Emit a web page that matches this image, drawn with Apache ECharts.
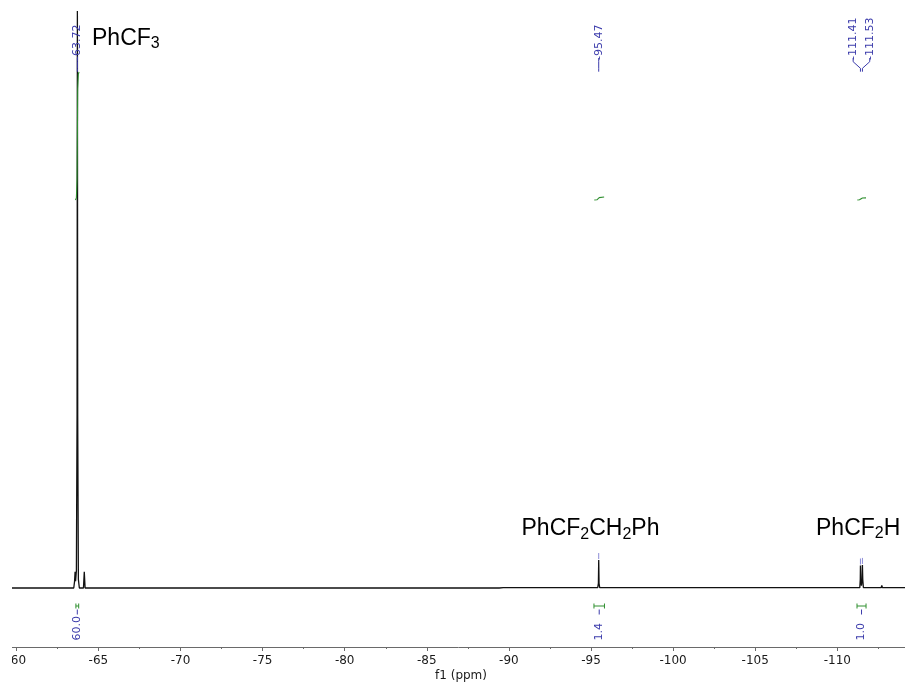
<!DOCTYPE html>
<html>
<head>
<meta charset="utf-8">
<title>19F NMR spectrum</title>
<script src="https://cdn.jsdelivr.net/npm/echarts@6/dist/echarts.min.js"></script>
<style>
  html, body { margin: 0; padding: 0; background: #ffffff; }
  #chart { position: absolute; left: 12px; top: 0; width: 893px; height: 685px; }
</style>
</head>
<body>
<div id="chart"></div>
<script>
// Chemical-shift axis (ppm)
const axisMin = -115;
const axisMax = -55;
const axisStep = 5;

// Spectrum trace: chemical shift (ppm) and intensity (% of tallest line)
const spectrumPpm = [
  -59.00, -63.50, -63.55, -63.58, -63.61, -63.66, -63.70, -63.72, -63.74, -63.78, -63.84,
  -64.09, -64.14, -64.19,
  -89.41, -89.46, -89.51, -89.66, -89.71, -89.76,
  -95.41, -95.45, -95.47, -95.49, -95.53,
  -111.37, -111.40, -111.41, -111.43, -111.47, -111.51, -111.53, -111.55, -111.59,
  -112.67, -112.71, -112.75,
  -116.00
];
const spectrumIntensity = [
  0, 0, 1.2, 2.8, 1.2, 3, 30, 100, 30, 1.5, 0,
  0, 2.8, 0,
  0, 0.3, 0.05, 0.05, 0.3, 0.05,
  0.05, 0.8, 4.85, 0.8, 0.05,
  0.05, 1.5, 3.9, 1.5, 0.4, 1.5, 4.0, 1.5, 0.05,
  0.05, 0.45, 0.05,
  0.05
];

// Picked peaks
const peakShifts = [-63.72, -95.47, -111.41, -111.53];

// Integral regions
const integralStart = [-63.63, -95.18, -111.20];
const integralEnd = [-63.80, -95.82, -111.75];
const integralValue = [60.0, 1.4, 1.0];

// Running integral curves
const integralCurvePpm = [
  [-63.60, -63.66, -63.70, -63.72, -63.74, -63.78, -63.82],
  [-95.20, -95.36, -95.45, -95.50, -95.60, -95.80],
  [-111.22, -111.35, -111.41, -111.47, -111.53, -111.60, -111.75]
];
const integralCurveValue = [
  [0, 1, 10, 30, 52, 59, 60],
  [0, 0.1, 0.6, 1.1, 1.35, 1.4],
  [0, 0.1, 0.45, 0.6, 0.95, 1.0, 1.0]
];

// Compound assignments
const compoundNames = ['{m|PhCF}{s|3}', '{m|PhCF}{s|2}{m|CH}{s|2}{m|Ph}', '{m|PhCF}{s|2}{m|H}'];

const axisFont = '"DejaVu Sans", Tahoma, sans-serif';
const labelBlue = '#3b3bab';
const integralGreen = '#2f8f2f';

const chart = echarts.init(document.getElementById('chart'), null, { renderer: 'canvas' });

function peakHeight(ppm) {
  const idx = spectrumPpm.indexOf(ppm);
  return idx >= 0 ? spectrumIntensity[idx] : 0;
}

function renderPeakLabel(params, api) {
  const i = params.dataIndex;
  const cs = params.coordSys;
  const xs = peakShifts.map(p => api.coord([p, 0])[0]);
  let first = i;
  while (first > 0 && Math.abs(xs[first] - xs[first - 1]) < 14) first--;
  let last = i;
  while (last < xs.length - 1 && Math.abs(xs[last + 1] - xs[last]) < 14) last++;
  const n = last - first + 1;
  let mean = 0;
  for (let k = first; k <= last; k++) mean += xs[k] / n;
  const lx = mean + (i - first - (n - 1) / 2) * 16.6;
  const px = xs[i];
  const top = cs.y;
  const children = [
    {
      type: 'polyline',
      shape: { points: [[lx, top + 47], [lx, top + 50.7], [px, top + 57.3], [px, top + 60.7]] },
      style: { stroke: labelBlue, lineWidth: 1, fill: null }
    },
    {
      type: 'text',
      x: lx,
      y: top + 49,
      rotation: Math.PI / 2,
      style: {
        text: api.value(0).toFixed(2),
        fill: labelBlue,
        font: '11px ' + axisFont,
        align: 'left',
        verticalAlign: 'middle'
      }
    }
  ];
  const peakY = api.coord([peakShifts[i], peakHeight(peakShifts[i])])[1];
  if (peakY - 8 > top) {
    children.push({
      type: 'line',
      shape: { x1: px, y1: peakY - 7, x2: px, y2: peakY - 1 },
      style: { stroke: '#8c8cd6', lineWidth: 1 }
    });
  }
  return { type: 'group', children: children };
}

function renderIntegral(params, api) {
  const cs = params.coordSys;
  const x1 = api.coord([api.value(0), 0])[0];
  const x2 = api.coord([api.value(1), 0])[0];
  const xm = (x1 + x2) / 2;
  const bottom = cs.y + cs.height;
  const yb = bottom - 41;
  return {
    type: 'group',
    children: [
      { type: 'line', shape: { x1: x1, y1: yb, x2: x2, y2: yb }, style: { stroke: integralGreen, lineWidth: 1 } },
      { type: 'line', shape: { x1: x1, y1: yb - 2.5, x2: x1, y2: yb + 2.5 }, style: { stroke: integralGreen, lineWidth: 1 } },
      { type: 'line', shape: { x1: x2, y1: yb - 2.5, x2: x2, y2: yb + 2.5 }, style: { stroke: integralGreen, lineWidth: 1 } },
      { type: 'line', shape: { x1: xm, y1: bottom - 37.5, x2: xm, y2: bottom - 32.5 }, style: { stroke: labelBlue, lineWidth: 1 } },
      {
        type: 'text',
        x: xm,
        y: bottom - 6.5,
        rotation: Math.PI / 2,
        style: {
          text: api.value(2).toFixed(1),
          fill: labelBlue,
          font: '11px ' + axisFont,
          align: 'left',
          verticalAlign: 'middle'
        }
      }
    ]
  };
}

const nameRich = {
  m: { fontSize: 23, lineHeight: 27, fontFamily: '"Liberation Sans", Arial, sans-serif', color: '#000' },
  s: { fontSize: 16, lineHeight: 14, verticalAlign: 'bottom', fontFamily: '"Liberation Sans", Arial, sans-serif', color: '#000' }
};
const namePos = [[80, 25], [509.5, 515.5], [804, 515]];

const series = [
  {
    type: 'line',
    name: 'spectrum',
    xAxisIndex: 0,
    yAxisIndex: 0,
    data: spectrumPpm.map((p, i) => [p, spectrumIntensity[i]]),
    showSymbol: false,
    symbol: 'none',
    lineStyle: { color: '#111111', width: 1.3 },
    clip: true,
    z: 2
  }
];
integralCurvePpm.forEach((ppms, k) => {
  series.push({
    type: 'line',
    name: 'integral ' + (k + 1),
    xAxisIndex: 0,
    yAxisIndex: 1,
    data: ppms.map((p, i) => [p, integralCurveValue[k][i]]),
    showSymbol: false,
    symbol: 'none',
    lineStyle: { color: integralGreen, width: 1.1 },
    z: 3
  });
});
series.push({
  type: 'custom',
  name: 'integral regions',
  xAxisIndex: 0,
  yAxisIndex: 0,
  data: integralStart.map((s, i) => [s, integralEnd[i], integralValue[i]]),
  encode: { x: [0, 1] },
  renderItem: renderIntegral,
  z: 4
});
series.push({
  type: 'custom',
  name: 'peak labels',
  xAxisIndex: 0,
  yAxisIndex: 0,
  data: peakShifts.map(p => [p]),
  encode: { x: 0 },
  renderItem: renderPeakLabel,
  z: 4
});

chart.setOption({
  animation: false,
  backgroundColor: '#ffffff',
  grid: { left: -77.8, top: 11, width: 985.2, height: 636, containLabel: false, outerBoundsMode: 'none' },
  xAxis: {
    type: 'value',
    inverse: true,
    min: axisMin,
    max: axisMax,
    interval: axisStep,
    axisLine: { show: true, onZero: false, lineStyle: { color: '#6a6a6a', width: 1 } },
    axisTick: { show: true, length: 4, lineStyle: { color: '#6a6a6a' } },
    minorTick: { show: true, splitNumber: 2, length: 2, lineStyle: { color: '#6a6a6a' } },
    axisLabel: {
      color: '#1a1a1a',
      fontSize: 12,
      fontFamily: axisFont,
      margin: 8,
      showMinLabel: false,
      showMaxLabel: false
    },
    splitLine: { show: false },
    minorSplitLine: { show: false }
  },
  yAxis: [
    { type: 'value', min: -10.225, max: 100, show: false, splitLine: { show: false } },
    { type: 'value', min: -209.53, max: 88.59, show: false, splitLine: { show: false } }
  ],
  graphic: [
    {
      type: 'text',
      x: 449,
      y: 676,
      style: { text: 'f1 (ppm)', font: '12px ' + axisFont, fill: '#1a1a1a', align: 'center', verticalAlign: 'middle' }
    }
  ].concat(compoundNames.map((t, i) => ({
    type: 'text',
    x: namePos[i][0],
    y: namePos[i][1],
    style: { text: t, rich: nameRich, align: 'left', verticalAlign: 'top' }
  }))),
  series: series
});
</script>
</body>
</html>
